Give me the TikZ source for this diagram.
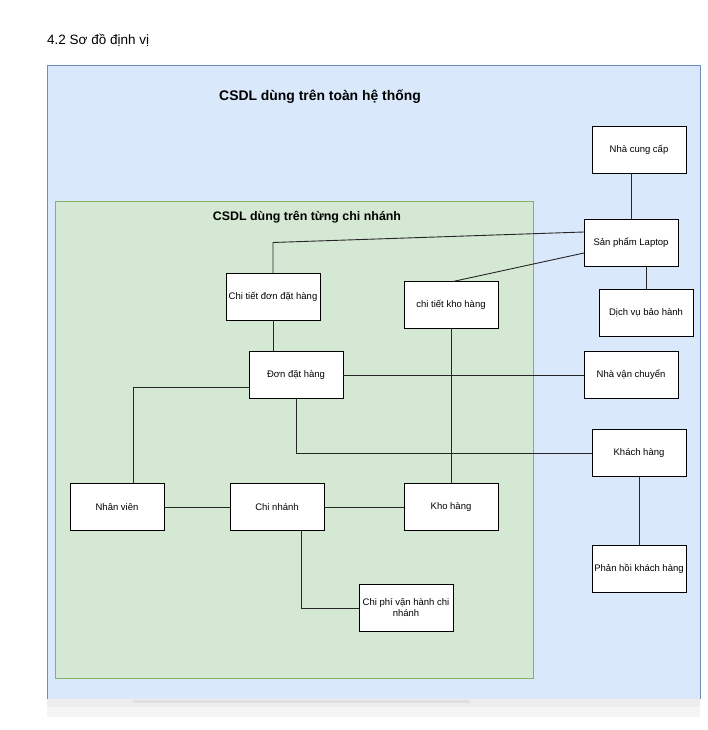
\documentclass[tikz,border=0pt]{standalone}
\usepackage{fontspec}
\setmainfont{Liberation Sans}
\usetikzlibrary{positioning}
\definecolor{blueback}{HTML}{DAE8FC}
\definecolor{blueline}{HTML}{6C8EBF}
\definecolor{greenback}{HTML}{D5E8D4}
\definecolor{greenline}{HTML}{82B366}
\tikzset{
  entity/.style={draw, rectangle, fill=white, line width=0.9, minimum width=94pt, minimum height=47pt,
    inner sep=1pt, outer sep=0pt, align=center, font=\fontsize{9.5}{11}\selectfont},
  link/.style={line width=0.9, draw=black!85}
}
\begin{document}
\begin{tikzpicture}[x=1pt, y=1pt]
        \useasboundingbox (0,0) rectangle (707,730);
        % areas %
        \fill[blueback] (47,31) rectangle (700,665);
        \draw[blueline, line width=0.8] (47,31) -- (47,665) -- (700,665) -- (700,31);
        \fill[black!7] (47,13) rectangle (700,31);
        \fill[black!4] (47,13) rectangle (700,23);
        \fill[black!12] (133,27) rectangle (470,30);
        \draw[greenline, fill=greenback, line width=0.8] (55,52) rectangle (533,529);
        \node[anchor=west, inner sep=0pt, font=\fontsize{13.5}{15}\selectfont] (title) at (47,690) {4.2 Sơ đồ định vị};
        \node[font=\bfseries\fontsize{13.9}{16}\selectfont] (system) at (320,633) {CSDL dùng trên toàn hệ thống};
        \node[font=\bfseries\fontsize{12.4}{14}\selectfont] (branch) at (307,513) {CSDL dùng trên từng chi nhánh};

        % nodes %
        \node[entity] (chinhanh) at (277,223) {Chi nhánh};
        \node[entity, left=66pt of chinhanh] (nhanvien) {Nhân viên};
        \node[entity, right=80pt of chinhanh] (khohang) {Kho hàng};
        \node[entity, below right=54pt and 35pt of chinhanh] (chiphi) {Chi phí vận hành chi\\nhánh};
        \node[entity, above=155pt of khohang] (ctkho) {chi tiết kho hàng};
        \node[entity, above=85pt of chinhanh, xshift=19pt] (dondh) {Đơn đặt hàng};
        \node[entity, above=31pt of dondh, xshift=-23pt] (ctdon) {Chi tiết đơn đặt hàng};
        \node[entity, right=241pt of dondh] (vanchuyen) {Nhà vận chuyển};
        \node[entity, above=85pt of vanchuyen] (laptop) {Sản phẩm Laptop};
        \node[entity, above=46pt of laptop, xshift=8pt] (cungcap) {Nhà cung cấp};
        \node[entity, below=23pt of laptop, xshift=15pt] (baohanh) {Dịch vụ bảo hành};
        \node[entity, below=31pt of vanchuyen, xshift=8pt] (khach) {Khách hàng};
        \node[entity, below=69pt of khach] (phanhoi) {Phản hồi khách hàng};

        % edges %
        \draw[link] (laptop.north) -- (laptop.north |- cungcap.south);
        \draw[link] ([yshift=11pt]laptop.west) -- ([yshift=31pt]ctdon.north) -- (ctdon.north);
        \draw[link] ([yshift=-10pt]laptop.west) -- ([xshift=2pt]ctkho.north);
        \draw[link] (baohanh.north) -- (baohanh.north |- laptop.south);
        \draw[link] (ctdon.south) -- (ctdon.south |- dondh.north);
        \draw[link] (dondh) -- (vanchuyen);
        \draw[link] (ctkho) -- (khohang);
        \draw[link] ([yshift=-12pt]dondh.west) -| ([xshift=16pt]nhanvien.north);
        \draw[link] (dondh.south) |- (khach.west);
        \draw[link] (nhanvien) -- (chinhanh);
        \draw[link] (chinhanh) -- (khohang);
        \draw[link] ([xshift=24pt]chinhanh.south) |- (chiphi.west);
        \draw[link] (khach) -- (phanhoi);
      \end{tikzpicture}
\end{document}
